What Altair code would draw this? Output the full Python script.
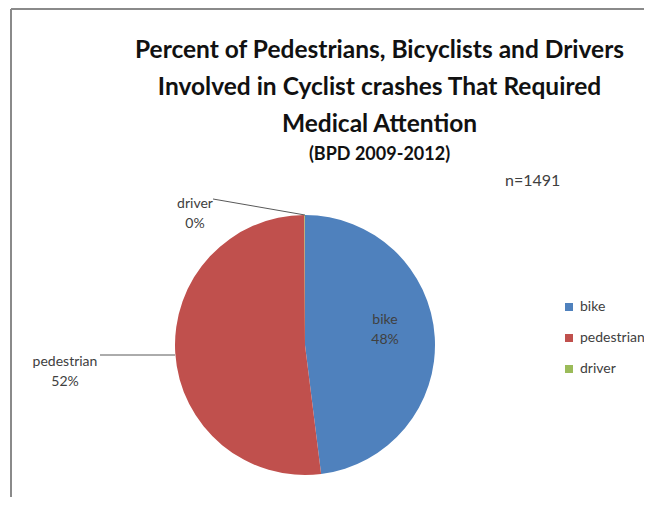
import altair as alt
import pandas as pd

# ---- data ----
categories = ["bike", "pedestrian", "driver"]
counts = [716, 774, 1]
pct_labels = ["48%", "52%", "0%"]
colors = ["#4F81BD", "#C0504D", "#9BBB59"]
title_lines = [
    "Percent of Pedestrians, Bicyclists and Drivers",
    "Involved in Cyclist crashes That Required",
    "Medical Attention",
]
subtitle = "(BPD 2009-2012)"
n_note = "n=1491"

df = pd.DataFrame({
    "category": categories,
    "count": counts,
    "pct": pct_labels,
    "order": list(range(len(categories))),
})

# ---- layout (page pixels -> view pixels) ----
PAD_L, PAD_T = 3, 165
W, H = 633, 324


def px(x):
    return x - 8 - PAD_L


def py(y):
    return y - 8 - PAD_T


CX, CY, R = px(305), py(345), 130
FONT = "Lato"
TXT = "#404040"
one = pd.DataFrame({"k": [0]})

pie = alt.Chart(df).mark_arc(outerRadius=R).encode(
    theta=alt.Theta("count:Q", stack=True),
    color=alt.Color(
        "category:N",
        scale=alt.Scale(domain=categories, range=colors),
        legend=alt.Legend(
            title=None, orient="none", legendX=px(562), legendY=py(300),
            symbolType="square", symbolSize=64, symbolStrokeWidth=0,
            labelFont=FONT, labelFontSize=14, labelColor=TXT,
            rowPadding=17, labelOffset=4, padding=0,
        ),
    ),
    order=alt.Order("order:Q", sort="ascending"),
    x=alt.value(CX),
    y=alt.value(CY),
)


def label(i, x, y):
    return alt.Chart(one).mark_text(
        font=FONT, fontSize=14, color=TXT, lineBreak="\n", lineHeight=20,
        align="center", baseline="middle",
    ).encode(
        x=alt.value(px(x)), y=alt.value(py(y)),
        text=alt.value(f"{categories[i]}\n{pct_labels[i]}"),
    )


def line(x1, y1, x2, y2, color="#595959", w=1):
    return alt.Chart(one).mark_rule(color=color, strokeWidth=w).encode(
        x=alt.value(x1), y=alt.value(y1), x2=alt.value(x2), y2=alt.value(y2)
    )


frame_top = line(0, py(9), W, py(9), color="#8a8a8a", w=2)
frame_left = line(0, py(9), 0, H, color="#8a8a8a", w=2)
lead_ped = line(px(100), py(355), CX - R, py(355))
lead_drv = line(px(213), py(199), CX, CY - R)

note = alt.Chart(one).mark_text(
    font=FONT, fontSize=16, color=TXT, align="left", baseline="middle"
).encode(x=alt.value(px(505)), y=alt.value(py(181)), text=alt.value(n_note))

chart = alt.layer(
    frame_top, frame_left, pie, lead_ped, lead_drv,
    label(0, 385, 320), label(1, 65, 362), label(2, 195, 204), note,
).properties(
    width=W, height=H,
    padding={"left": PAD_L, "top": PAD_T, "right": 0, "bottom": 0},
    autosize=alt.AutoSizeParams(type="none"),
    title=alt.Title(
        title_lines, subtitle=subtitle, anchor="middle", frame="group", dx=52,
        offset=-157, font=FONT, fontSize=24.5, fontWeight="bold", color="#111111",
        lineHeight=37, subtitleFont=FONT, subtitleFontSize=18,
        subtitleFontWeight="bold", subtitleColor="#111111", subtitlePadding=9,
    ),
).configure_view(stroke=None)

chart.save("out.html", embed_options={"renderer": "svg", "actions": False})
